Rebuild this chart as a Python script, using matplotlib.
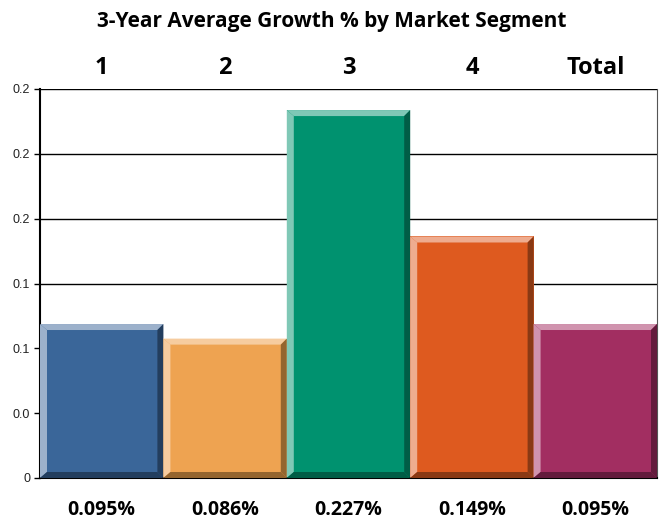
import numpy as np
import matplotlib
matplotlib.use("Agg")
import matplotlib.pyplot as plt
from matplotlib.patches import Polygon
from matplotlib.ticker import FuncFormatter

# data
segments = ["1", "2", "3", "4", "Total"]
growth = [0.095, 0.086, 0.227, 0.149, 0.095]
face_cols = ["#3a6699", "#eea351", "#00926f", "#de5a1f", "#a22e61"]
light_cols = ["#9cb1cb", "#f6cc9f", "#7fc8b6", "#eeac8f", "#d093ae"]
dark_cols = ["#233e5e", "#94652f", "#005d46", "#893914", "#631b3c"]
yticks = [0, 0.04, 0.08, 0.12, 0.16, 0.20, 0.24]

W, H = 663, 523
fig = plt.figure(figsize=(W / 100, H / 100), dpi=100)
ax_l, ax_r, ax_b, ax_t = 40, 657, 478, 89
ax = fig.add_axes([ax_l / W, 1 - ax_b / H, (ax_r - ax_l) / W, (ax_b - ax_t) / H])

x = np.arange(len(segments))
ax.set_xlim(-0.5, len(segments) - 0.5)
ax.set_ylim(0, 0.24)

# gridlines behind bars
ax.set_axisbelow(True)
ax.yaxis.grid(True, color="black", linewidth=1.0)
ax.set_yticks(yticks)
ax.yaxis.set_major_formatter(FuncFormatter(lambda v, p: "0" if v == 0 else "%.1f" % v))
ax.tick_params(axis="y", length=4, width=1, labelsize=9, pad=3, labelcolor="#222222")
for lbl in ax.get_yticklabels():
    lbl.set_family("Liberation Sans")
ax.set_xticks([])
for s in ["left", "bottom"]:
    ax.spines[s].set_linewidth(1.5)
ax.spines["top"].set_visible(False)
ax.spines["right"].set_linewidth(0.8)
ax.spines["right"].set_color("#555555")

bars = ax.bar(x, growth, width=1.0, color=face_cols, linewidth=0, zorder=2)

# bevel edges, sizes in pixels converted to data units
px_x = (len(segments)) / (ax_r - ax_l)
px_y = 0.24 / (ax_b - ax_t)
L, T = 7 * px_x, 6 * px_y
R, B = 6 * px_x, 6 * px_y
for b, lc, dc in zip(bars, light_cols, dark_cols):
    x0 = b.get_x()
    x1 = x0 + b.get_width()
    h = b.get_height()
    top = [(x0, h), (x1, h), (x1 - R, h - T), (x0 + L, h - T)]
    left = [(x0, 0), (x0, h), (x0 + L, h - T), (x0 + L, B)]
    right = [(x1, h), (x1, 0), (x1 - R, B), (x1 - R, h - T)]
    bottom = [(x0, 0), (x1, 0), (x1 - R, B), (x0 + L, B)]
    for pts, c in [(top, lc), (left, lc), (right, dc), (bottom, dc)]:
        ax.add_patch(Polygon(pts, closed=True, facecolor=c, edgecolor="none", zorder=3))

title_font = "Open Sans"
fig.text(0.5, 1 - 22 / H, "3-Year Average Growth % by Market Segment",
         ha="center", va="center", fontsize=15, fontweight="bold", family=title_font)

for xi, name, v in zip(x, segments, growth):
    xf = ax.transData.transform((xi, 0))[0] / W
    fig.text(xf, 1 - 68 / H, name, ha="center", va="center", fontsize=17,
             fontweight="bold", family=title_font)
    fig.text(xf, 1 - 510 / H, "%.3f%%" % v, ha="center", va="center", fontsize=14,
             fontweight="bold", family=title_font)

fig.savefig("out.png", dpi=100)
